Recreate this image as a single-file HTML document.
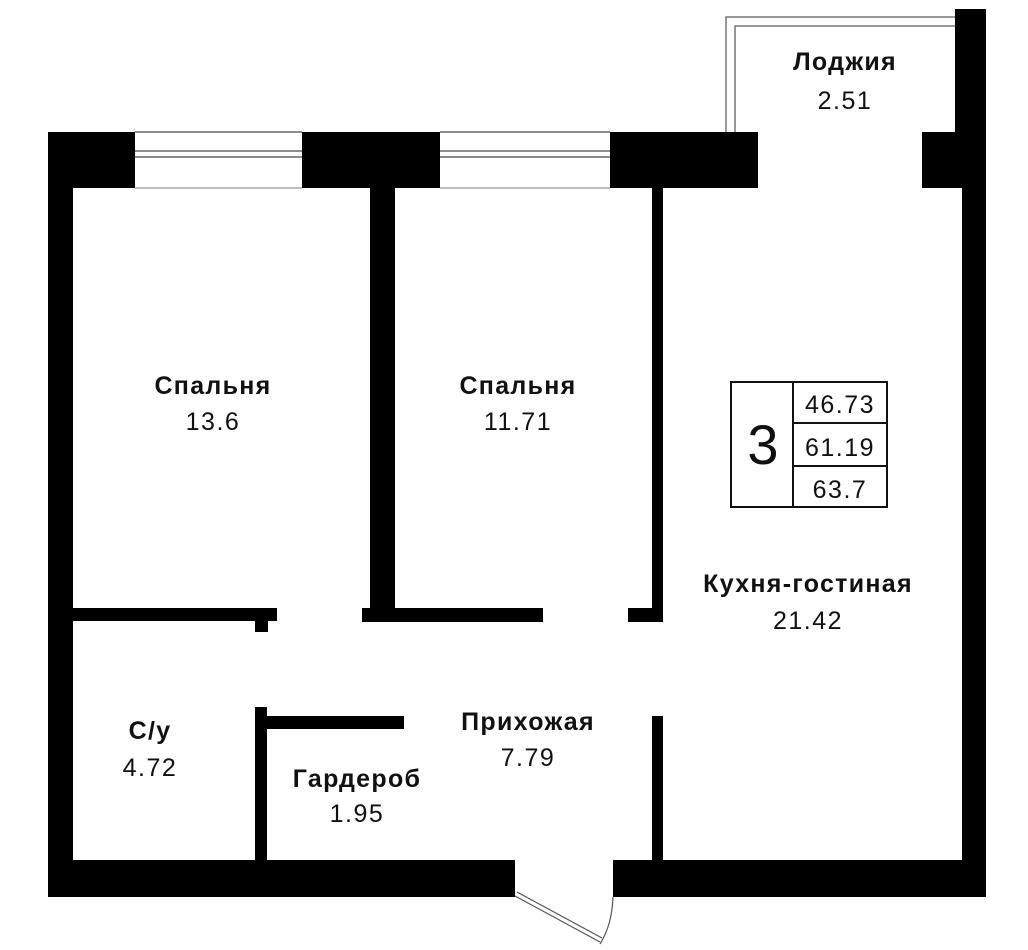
<!DOCTYPE html>
<html><head><meta charset="utf-8"><style>
html,body{margin:0;padding:0;background:#fff;}
svg{display:block;}
text{font-family:"Liberation Sans","DejaVu Sans",sans-serif;fill:#111;text-anchor:middle;}
.b{font-weight:bold;font-size:25px;letter-spacing:1.3px;}
.n{font-size:25px;letter-spacing:1.5px;}
</style></head><body>
<svg width="1028" height="950" viewBox="0 0 1028 950" xmlns="http://www.w3.org/2000/svg">
<path d="M726 132 V17 H958" fill="none" stroke="#777" stroke-width="1.5"/>
<path d="M735 132 V26 H958" fill="none" stroke="#777" stroke-width="1.5"/>
<g stroke="#666" stroke-width="1.5">
<line x1="135" y1="132" x2="302" y2="132"/><line x1="135" y1="151" x2="302" y2="151"/><line x1="135" y1="157" x2="302" y2="157"/><line x1="135" y1="188" x2="302" y2="188" stroke="#aaa"/>
<line x1="440" y1="132" x2="610" y2="132"/><line x1="440" y1="151" x2="610" y2="151"/><line x1="440" y1="157" x2="610" y2="157"/><line x1="440" y1="188" x2="610" y2="188" stroke="#aaa"/>
</g>
<g fill="#000">
<rect x="48" y="132" width="87" height="56"/>
<rect x="302" y="132" width="138" height="56"/>
<rect x="610" y="132" width="148" height="56"/>
<rect x="922" y="132" width="38" height="56"/>
<rect x="955" y="9" width="31" height="179"/>
<rect x="962" y="188" width="24" height="709"/>
<rect x="48" y="132" width="25" height="765"/>
<rect x="48" y="860" width="467" height="37"/>
<rect x="613" y="860" width="373" height="37"/>
<rect x="370" y="188" width="25" height="434"/>
<rect x="652" y="188" width="11" height="434"/>
<rect x="73" y="608" width="204" height="13"/>
<rect x="255" y="608" width="13" height="24"/>
<rect x="362" y="608" width="181" height="14"/>
<rect x="628" y="608" width="35" height="14"/>
<rect x="255" y="707" width="12" height="153"/>
<rect x="267" y="716" width="137" height="13"/>
<rect x="652" y="716" width="11" height="144"/>
</g>
<g stroke="#555" stroke-width="1.2" fill="none">
<line x1="515" y1="896" x2="600" y2="942"/>
<line x1="517" y1="892" x2="602" y2="938"/>
<path d="M613 897 Q612 925 600 944"/>
</g>
<g fill="none" stroke="#111" stroke-width="2">
<rect x="731" y="382" width="156" height="125"/>
<line x1="793" y1="382" x2="793" y2="507"/>
<line x1="793" y1="423" x2="887" y2="423"/>
<line x1="793" y1="466" x2="887" y2="466"/>
</g>
<text x="763" y="464" style="font-size:56px">3</text>
<text class="n" x="840" y="413">46.73</text>
<text class="n" x="840" y="456">61.19</text>
<text class="n" x="840" y="498">63.7</text>
<text class="b" x="845" y="70">Лоджия</text><text class="n" x="845" y="109">2.51</text>
<text class="b" x="213" y="394">Спальня</text><text class="n" x="213" y="430">13.6</text>
<text class="b" x="518" y="394">Спальня</text><text class="n" x="518" y="430">11.71</text>
<text class="b" x="808" y="592">Кухня-гостиная</text><text class="n" x="808" y="629">21.42</text>
<text class="b" x="528" y="730">Прихожая</text><text class="n" x="528" y="766">7.79</text>
<text class="b" x="150" y="739">С/у</text><text class="n" x="150" y="776">4.72</text>
<text class="b" x="357" y="787">Гардероб</text><text class="n" x="357" y="822">1.95</text>
</svg>
</body></html>
